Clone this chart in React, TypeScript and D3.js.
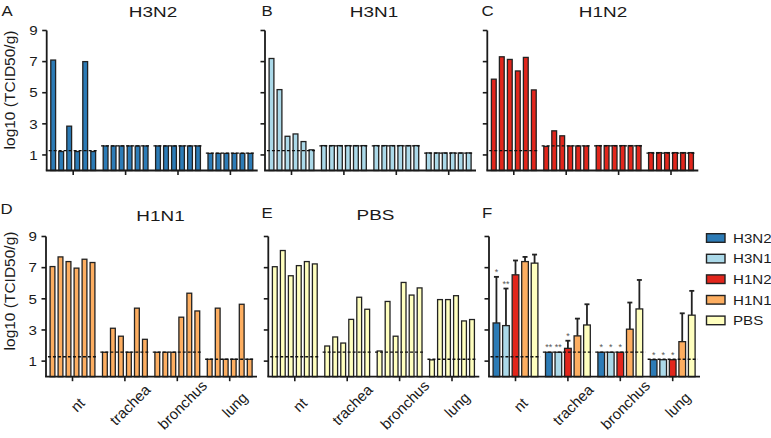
import React from "react";
import * as d3 from "d3";

const groups = ["nt", "trachea", "bronchus", "lung"];
const yTicks = [1, 3, 5, 7, 9];
const seriesNames = ["H3N2", "H3N1", "H1N2", "H1N1", "PBS"];
const seriesColors = ["#2c7bb6", "#abd9e9", "#e2261c", "#fdae61", "#ffffbf"];
const lodLevels = [1.28, 1.58, 1.58, 1.12];

const h3n2Values = [
  [7.1, 1.22, 2.85, 1.22, 7.0, 1.22],
  [1.58, 1.58, 1.58, 1.58, 1.58, 1.58],
  [1.58, 1.58, 1.58, 1.58, 1.58, 1.58],
  [1.1, 1.1, 1.1, 1.1, 1.1, 1.1],
];
const h3n1Values = [
  [7.2, 5.2, 2.2, 2.35, 1.86, 1.33],
  [1.6, 1.6, 1.6, 1.6, 1.6, 1.6],
  [1.6, 1.6, 1.6, 1.6, 1.6, 1.6],
  [1.13, 1.13, 1.13, 1.13, 1.13, 1.13],
];
const h1n2Values = [
  [5.87, 7.31, 7.14, 6.4, 7.27, 5.18],
  [1.55, 2.55, 2.23, 1.58, 1.58, 1.58],
  [1.6, 1.6, 1.6, 1.6, 1.6, 1.6],
  [1.15, 1.15, 1.15, 1.15, 1.15, 1.15],
];
const h1n1Values = [
  [7.07, 7.69, 7.39, 6.97, 7.54, 7.33],
  [1.57, 3.11, 2.6, 1.57, 4.4, 2.4],
  [1.57, 1.57, 1.57, 3.82, 5.36, 4.22],
  [1.12, 4.4, 1.12, 1.12, 4.65, 1.12],
];
const pbsValues = [
  [7.06, 8.1, 6.48, 7.13, 7.39, 7.24],
  [1.97, 2.55, 2.16, 3.68, 5.1, 4.33],
  [1.65, 4.83, 2.6, 6.05, 5.24, 5.7],
  [1.08, 4.95, 4.95, 5.2, 3.58, 3.67],
];

// Panel F: group means (per group, per series), upper error bar ends, significance marks
const meanValues = [
  [3.45, 3.28, 6.54, 7.39, 7.29],
  [1.57, 1.57, 1.82, 2.62, 3.32],
  [1.57, 1.57, 1.57, 3.05, 4.35],
  [1.09, 1.09, 1.09, 2.25, 3.95],
];
const errorTops: (number | null)[][] = [
  [6.41, 5.66, 7.46, 7.69, 7.84],
  [null, null, 2.31, 3.73, 4.65],
  [null, null, null, 4.76, 6.21],
  [null, null, null, 4.07, 5.51],
];
const significance = [
  ["*", "**", "", "", ""],
  ["**", "**", "*", "", ""],
  ["*", "*", "*", "", ""],
  ["*", "*", "*", "", ""],
];

const FONT = "Liberation Sans, Arial, Helvetica, sans-serif";
const INK = "#1a1a1a";

const yTop = d3.scaleLinear().domain([0, 9]).range([170.5, 30.5]);
const yBot = d3.scaleLinear().domain([0, 9]).range([376.7, 236.5]);

function makeX(ax: number) {
  return d3
    .scaleBand<string>()
    .domain(groups)
    .range([ax + 0.3, ax + 209.9])
    .paddingInner(0.12)
    .paddingOuter(0.06);
}

function T(props: any) {
  const { x, y, size, sx = 1, anchor = "start", baseline, fill = INK, children } = props;
  return (
    <text
      transform={`translate(${x},${y}) scale(${sx},1)`}
      fontSize={size}
      textAnchor={anchor}
      dominantBaseline={baseline}
      fill={fill}
      fontFamily={FONT}
    >
      {children}
    </text>
  );
}

function Frame(props: any) {
  const { ax, y, tickLabels, xLabels, yLabelY } = props;
  const x = makeX(ax);
  const y0 = y(0);
  return (
    <g>
      <line x1={ax} x2={ax} y1={y0} y2={y(9)} stroke={INK} strokeWidth={1.8} />
      {yTicks.map((t) => (
        <g key={t}>
          <line x1={ax - 4.5} x2={ax} y1={y(t)} y2={y(t)} stroke={INK} strokeWidth={1.6} />
          {tickLabels && (
            <T x={ax - 9} y={y(t)} size={13.5} sx={1.12} anchor="end" baseline="central">
              {t}
            </T>
          )}
        </g>
      ))}
      <line x1={ax - 0.9} x2={ax + 211} y1={y0} y2={y0} stroke={INK} strokeWidth={1.8} />
      {groups.map((g) => {
        const cx = x(g)! + x.bandwidth() / 2;
        return <line key={g} x1={cx} x2={cx} y1={y0} y2={y0 + 4.5} stroke={INK} strokeWidth={1.6} />;
      })}
      {xLabels &&
        groups.map((g) => {
          const px = x(g)! + x.bandwidth() / 2 + 5;
          const py = y0 + 28;
          return (
            <text
              key={"lab" + g}
              x={px}
              y={py}
              transform={`rotate(-45 ${px} ${py})`}
              fontSize={15}
              textAnchor="middle"
              dominantBaseline="central"
              fill={INK}
              fontFamily={FONT}
            >
              {g}
            </text>
          );
        })}
      {tickLabels && (
        <text
          x={9}
          y={yLabelY}
          transform={`rotate(-90 9 ${yLabelY})`}
          fontSize={15.5}
          textAnchor="middle"
          dominantBaseline="central"
          fill={INK}
          fontFamily={FONT}
        >
          log10 (TCID50/g)
        </text>
      )}
    </g>
  );
}

function LodLines(props: any) {
  const { ax, y, extra = 1.5 } = props;
  const x = makeX(ax);
  return (
    <g>
      {groups.map((g, i) => (
        <line
          key={g}
          x1={x(g)! - extra}
          x2={x(g)! + x.bandwidth() + extra}
          y1={y(lodLevels[i])}
          y2={y(lodLevels[i])}
          stroke="#111"
          strokeWidth={1.4}
          strokeDasharray="3,2"
        />
      ))}
    </g>
  );
}

function AnimalPanel(props: any) {
  const { ax, y, values, color, title, titleX, titleY, letter, letterX, letterY, tickLabels, xLabels, yLabelY } =
    props;
  const x = makeX(ax);
  const inner = d3
    .scaleBand<number>()
    .domain(d3.range(6))
    .range([0.65, x.bandwidth() - 0.65])
    .paddingInner(0.4);
  const y0 = y(0);
  return (
    <g>
      <T x={letterX} y={letterY} size={15} sx={1.12}>
        {letter}
      </T>
      <T x={titleX} y={titleY} size={15.5} sx={1.22} anchor="middle">
        {title}
      </T>
      {groups.map((g, gi) => (
        <g key={g}>
          {values[gi].map((v: number, i: number) => (
            <rect
              key={i}
              x={x(g)! + inner(i)!}
              width={inner.bandwidth()}
              y={y(v)}
              height={y0 - y(v)}
              fill={color}
              stroke="#222"
              strokeWidth={1.3}
            />
          ))}
        </g>
      ))}
      <LodLines ax={ax} y={y} />
      <Frame ax={ax} y={y} tickLabels={tickLabels} xLabels={xLabels} yLabelY={yLabelY} />
    </g>
  );
}

function SummaryPanel(props: any) {
  const { ax, y, letterX, letterY } = props;
  const x = makeX(ax);
  const inner = d3
    .scaleBand<number>()
    .domain(d3.range(seriesNames.length))
    .range([0.65, x.bandwidth() - 0.65])
    .paddingInner(0.3);
  const y0 = y(0);
  return (
    <g>
      <T x={letterX} y={letterY} size={15} sx={1.12}>
        F
      </T>
      {groups.map((g, gi) => (
        <g key={g}>
          {meanValues[gi].map((m, si) => {
            const bx = x(g)! + inner(si)!;
            const cx = bx + inner.bandwidth() / 2;
            const et = errorTops[gi][si];
            const topY = et != null ? y(et) : y(m);
            return (
              <g key={si}>
                {et != null && (
                  <g>
                    <line x1={cx} x2={cx} y1={y(m)} y2={y(et)} stroke="#222" strokeWidth={1.8} />
                    <line x1={cx - 2.5} x2={cx + 2.5} y1={y(et)} y2={y(et)} stroke="#222" strokeWidth={1.8} />
                  </g>
                )}
                <rect
                  x={bx}
                  width={inner.bandwidth()}
                  y={y(m)}
                  height={y0 - y(m)}
                  fill={seriesColors[si]}
                  stroke="#222"
                  strokeWidth={1.3}
                />
                {significance[gi][si] && (
                  <T x={cx} y={topY - 2} size={9} anchor="middle" fill="#555">
                    {significance[gi][si]}
                  </T>
                )}
              </g>
            );
          })}
        </g>
      ))}
      <LodLines ax={ax} y={y} extra={2} />
      <Frame ax={ax} y={y} tickLabels={false} xLabels={true} />
    </g>
  );
}

function Legend() {
  return (
    <g>
      {seriesNames.map((n, i) => {
        const cy = 238 + i * 20.6;
        return (
          <g key={n}>
            <rect x={706.5} y={cy - 4.3} width={18.5} height={8.6} fill={seriesColors[i]} stroke="#222" strokeWidth={1.4} />
            <T x={733} y={cy} size={13.5} sx={1.12} baseline="central">
              {n}
            </T>
          </g>
        );
      })}
    </g>
  );
}

export default function App() {
  return (
    <svg
      width={771}
      height={438}
      viewBox="0 0 771 438"
      style={{ position: "absolute", left: 0, top: 0, background: "#fff" }}
    >
      <rect x={0} y={0} width={771} height={438} fill="#fff" />
      <AnimalPanel ax={46.7} y={yTop} values={h3n2Values} color={seriesColors[0]} title="H3N2" titleX={153} titleY={16.7}
        letter="A" letterX={1.5} letterY={15.5} tickLabels={true} xLabels={false} yLabelY={90} />
      <AnimalPanel ax={265} y={yTop} values={h3n1Values} color={seriesColors[1]} title="H3N1" titleX={374} titleY={16.7}
        letter="B" letterX={261.5} letterY={15.5} tickLabels={false} xLabels={false} />
      <AnimalPanel ax={487.3} y={yTop} values={h1n2Values} color={seriesColors[2]} title="H1N2" titleX={603} titleY={16.7}
        letter="C" letterX={481.5} letterY={15.5} tickLabels={false} xLabels={false} />
      <AnimalPanel ax={46} y={yBot} values={h1n1Values} color={seriesColors[3]} title="H1N1" titleX={160.5} titleY={221}
        letter="D" letterX={0.5} letterY={214} tickLabels={true} xLabels={true} yLabelY={291} />
      <AnimalPanel ax={268.3} y={yBot} values={pbsValues} color={seriesColors[4]} title="PBS" titleX={375.5} titleY={219.5}
        letter="E" letterX={261.5} letterY={217.5} tickLabels={false} xLabels={true} />
      <SummaryPanel ax={489} y={yBot} letterX={482} letterY={217.5} />
      <Legend />
    </svg>
  );
}
